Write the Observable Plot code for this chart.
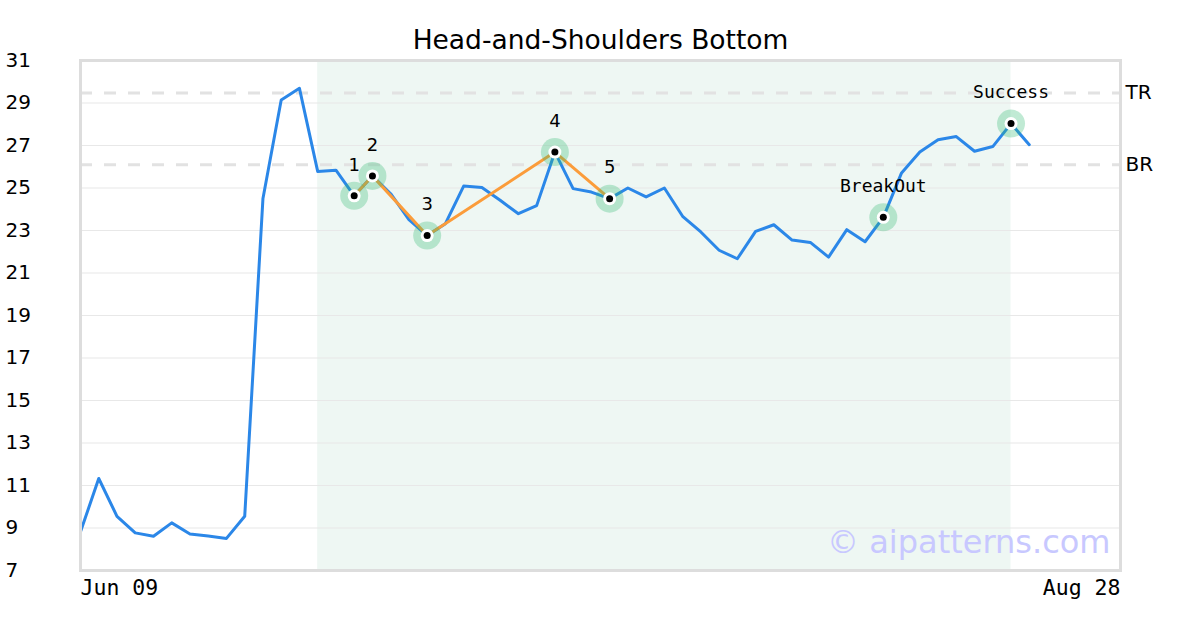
<!DOCTYPE html>
<html>
<head>
<meta charset="utf-8">
<script src="https://cdn.jsdelivr.net/npm/d3@7"></script>
<script src="https://cdn.jsdelivr.net/npm/@observablehq/plot@0.6"></script>
<style>
  html, body { margin: 0; padding: 0; background: #fff; }
  #chart svg { display: block; }
</style>
</head>
<body>
<div id="chart"></div>
<script>
// ---- data ----
const title = "Head-and-Shoulders Bottom";
const prices = [
  8.82, 11.33, 9.55, 8.77, 8.61, 9.24, 8.72, 8.62, 8.51, 9.55,
  24.51, 29.14, 29.69, 25.78, 25.84, 24.63, 25.57, 24.73, 23.51, 22.76,
  23.32, 25.09, 25.02, 24.42, 23.79, 24.17, 26.69, 24.97, 24.81, 24.50,
  25.00, 24.58, 25.00, 23.67, 22.93, 22.07, 21.67, 22.96, 23.27, 22.55,
  22.44, 21.75, 23.04, 22.47, 23.62, 25.71, 26.69, 27.27, 27.42, 26.73,
  26.95, 28.03, 27.04
];
const lastIndex = 57;                 // axis end (Aug 28)
const xTickIndex = [0, 57];
const xTickLabels = ["Jun 09", "Aug 28"];
const yTicks = [7, 9, 11, 13, 15, 17, 19, 21, 23, 25, 27, 29, 31];
const patternIndex = [15, 16, 19, 26, 29];
const patternLabels = ["1", "2", "3", "4", "5"];
const eventIndex = [44, 51];
const eventLabels = ["BreakOut", "Success"];
const levelValues = [29.47, 26.10];
const levelLabels = ["TR", "BR"];
const shadeRange = [13, 51];
const watermark = "© aipatterns.com";

// ---- derived tables ----
const series = prices.map((v, i) => ({i, v}));
const pattern = patternIndex.map((i, k) => ({i, v: prices[i], label: patternLabels[k]}));
const events = eventIndex.map((i, k) => ({i, v: prices[i], label: eventLabels[k]}));
const marked = pattern.concat(events);
const levels = levelValues.map((v, k) => ({v, label: levelLabels[k]}));
const xTicks = xTickIndex.map((i, k) => ({i, label: xTickLabels[k]}));

const sans = "DejaVu Sans, sans-serif";
const mono = "DejaVu Sans Mono, monospace";

const chart = Plot.plot({
  width: 1200,
  height: 630,
  marginLeft: 80,
  marginRight: 80,
  marginTop: 60,
  marginBottom: 60,
  style: {fontFamily: sans, background: "#fff", overflow: "visible"},
  x: {domain: [0, lastIndex], axis: null},
  y: {domain: [7, 31], axis: null},
  marks: [
    Plot.rect([{x1: shadeRange[0], x2: shadeRange[1]}], {x1: "x1", x2: "x2", fill: "#eef7f3"}),
    Plot.ruleY(yTicks.slice(1, -1), {stroke: "#e8e8e8", strokeWidth: 1.2}),
    Plot.ruleY(levels, {y: "v", stroke: "#e2e2e2", strokeWidth: 3, strokeDasharray: "12,12"}),
    Plot.text([watermark], {frameAnchor: "bottom-right", dx: -10, dy: -28, lineAnchor: "middle", fill: "#c8c8ff", fontSize: 32, fontFamily: sans, textAnchor: "end"}),
    Plot.line(series, {x: "i", y: "v", stroke: "#2b87e8", strokeWidth: 3}),
    Plot.line(pattern, {x: "i", y: "v", stroke: "#fb9c3a", strokeWidth: 3}),
    Plot.dot(marked, {x: "i", y: "v", r: 14, fill: "#2eb872", fillOpacity: 0.3, stroke: "none"}),
    Plot.dot(marked, {x: "i", y: "v", r: 6.5, fill: "#fff", stroke: "none"}),
    Plot.dot(marked, {x: "i", y: "v", r: 3.5, fill: "#000", stroke: "none"}),
    Plot.text(pattern, {x: "i", y: "v", text: "label", dy: -31, fontSize: 18, fontFamily: sans, fill: "#000"}),
    Plot.text(events, {x: "i", y: "v", text: "label", dy: -31, fontSize: 18, fontFamily: mono, fill: "#000"}),
    Plot.frame({stroke: "#dddddd", strokeWidth: 3}),
    // y tick labels (left-aligned at chart edge)
    Plot.text(yTicks, {y: d => d, text: d => String(d), frameAnchor: "left", dx: -75, textAnchor: "start", fontSize: 20, fontFamily: sans, fill: "#000"}),
    // x tick labels
    Plot.text(xTicks.slice(0, 1), {x: "i", text: "label", frameAnchor: "bottom", lineAnchor: "middle", dy: 18, textAnchor: "start", fontSize: 21.5, fontFamily: mono, fill: "#000"}),
    Plot.text(xTicks.slice(1), {x: "i", text: "label", frameAnchor: "bottom", lineAnchor: "middle", dy: 18, textAnchor: "end", fontSize: 21.5, fontFamily: mono, fill: "#000"}),
    // level labels
    Plot.text(levels, {y: "v", text: "label", frameAnchor: "right", dx: 5, textAnchor: "start", fontSize: 20, fontFamily: sans, fill: "#000"}),
    // title
    Plot.text([title], {frameAnchor: "top", lineAnchor: "middle", dy: -20, fontSize: 26.5, fontFamily: sans, fill: "#000"})
  ]
});
document.getElementById("chart").appendChild(chart);
</script>
</body>
</html>
